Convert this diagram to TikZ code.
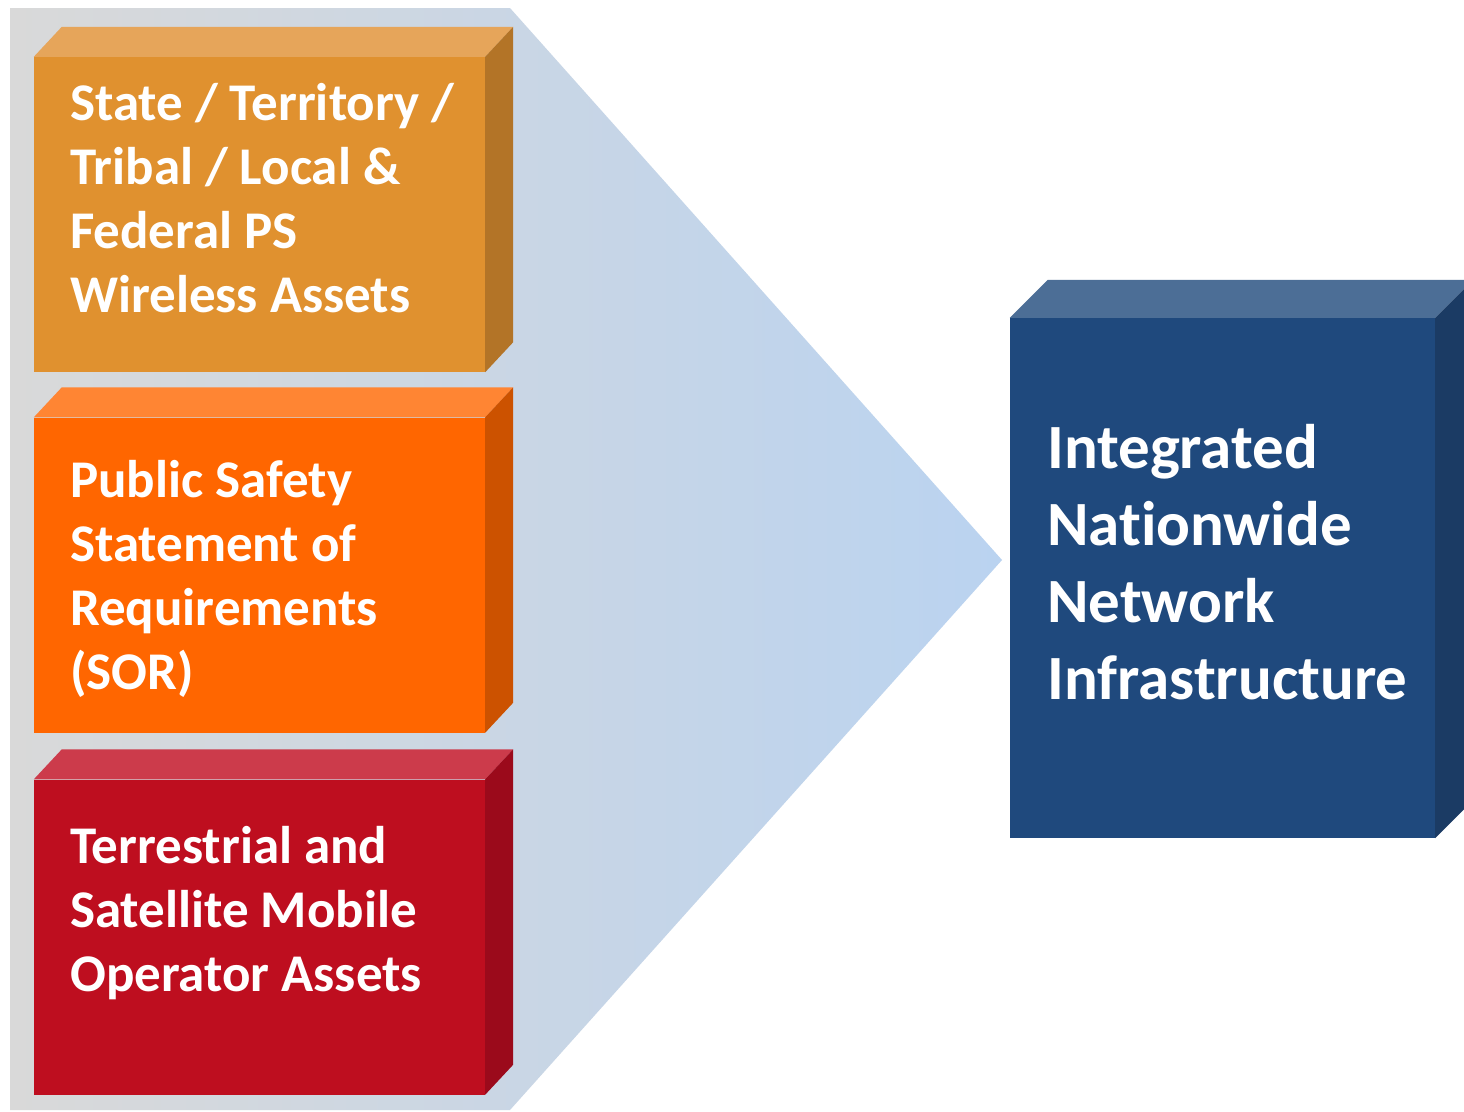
\documentclass[tikz,border=0pt]{standalone}
\usepackage{fontspec}
\setmainfont[Ligatures=NoCommon]{Carlito}
\usetikzlibrary{calc}
\definecolor{bgGray}{HTML}{D9D9D9}
\definecolor{bgBlue}{HTML}{BAD3F0}
\definecolor{ambFront}{HTML}{E0912F}
\definecolor{ambTop}{HTML}{E6A55A}
\definecolor{ambSide}{HTML}{B37427}
\definecolor{orgFront}{HTML}{FF6600}
\definecolor{orgTop}{HTML}{FF8533}
\definecolor{orgSide}{HTML}{CC5200}
\definecolor{redFront}{HTML}{BE0E1F}
\definecolor{redTop}{HTML}{CC3B4B}
\definecolor{redSide}{HTML}{9B0A1B}
\definecolor{navFront}{HTML}{1F497D}
\definecolor{navTop}{HTML}{4C6E96}
\definecolor{navSide}{HTML}{1B3B64}

\newcommand\slabfaces[5]{%
  \fill[#4] (#1.north west) -- ++(#2,-#3) -- ($(#1.north east)+(#2,-#3)$) -- (#1.north east) -- cycle;
  \fill[#5] (#1.north east) -- ++(#2,-#3) -- ($(#1.south east)+(#2,-#3)$) -- (#1.south east) -- cycle;
}

\begin{document}
\begin{tikzpicture}[x=1pt,y=-1pt,
    front/.style={rectangle, inner sep=0pt, minimum width=451pt, minimum height=315pt},
    lbl/.style={anchor=base west, align=left, inner sep=0pt, text=white,
      font=\bfseries\fontsize{53}{64}\selectfont}]
    \useasboundingbox (0,0) rectangle (1464,1111);
    \clip (0,0) rectangle (1464,1111);
    \fill[white] (0,0) rectangle (1464,1111);
    \shade[left color=bgGray, right color=bgBlue]
      (10,8) -- (510,8) -- (1002,560) -- (510,1110) -- (10,1110) -- cycle;

    \node[front, fill=ambFront] (assets) at (259.5,214.5) {};
    \slabfaces{assets}{28}{30}{ambTop}{ambSide}
    \node[front, fill=orgFront] (sor) at (259.5,575) {};
    \slabfaces{sor}{28}{30}{orgTop}{orgSide}
    \node[front, fill=redFront] (operator) at (259.5,937) {};
    \slabfaces{operator}{28}{30}{redTop}{redSide}
    \node[rectangle, inner sep=0pt, minimum width=425pt, minimum height=520pt,
      fill=navFront] (network) at (1222.5,578) {};
    \slabfaces{network}{38}{38}{navTop}{navSide}

    % base anchor sits on the last line
    \node[lbl] (assetstext) at (70,312) {State / Territory /\\Tribal / Local \&\\Federal PS\\Wireless Assets};
    \node[lbl] (sortext) at (70,689) {Public Safety\\Statement of\\Requirements\\(SOR)};
    \node[lbl] (operatortext) at (70,991) {Terrestrial and\\Satellite Mobile\\Operator Assets};
    \node[lbl, font=\bfseries\fontsize{63}{77}\selectfont] (networktext) at (1047,699)
      {Integrated\\Nationwide\\Network\\Infrastructure};
\end{tikzpicture}
\end{document}
